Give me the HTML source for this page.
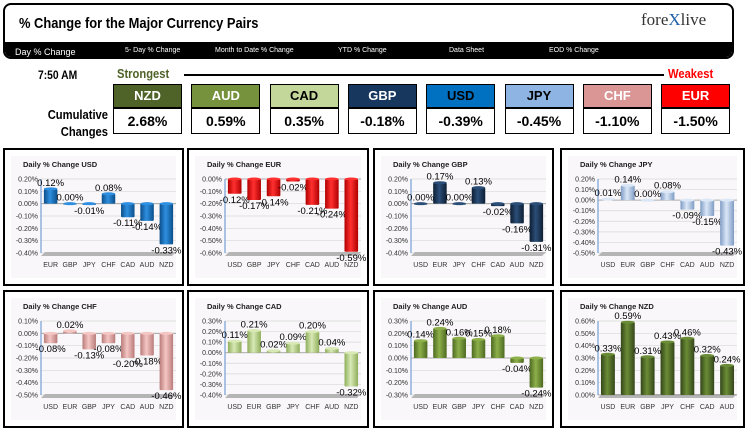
<!DOCTYPE html>
<html><head><meta charset="utf-8">
<style>
body{margin:0;width:747px;height:433px;background:#fff;overflow:hidden;font-family:"Liberation Sans",sans-serif;position:relative}
.abs{position:absolute}
.nar{font-family:"Liberation Sans Narrow","Liberation Sans",sans-serif;font-weight:bold}
.sq{transform:scaleX(0.86);transform-origin:left center;white-space:nowrap}
.box{position:absolute;width:67px;border:1px solid #000;text-align:center}
.bh{height:22px;line-height:22px;font-size:13px}
.bv{top:108px;height:24px;line-height:24px;font-size:14px;background:#fff;color:#000}
.panel{position:absolute;border:2px solid #000;box-sizing:border-box;background:#fff}
</style></head><body>
<div class="abs" style="left:3px;top:3px;width:731px;height:56px;border:2px solid #000;border-radius:8px;box-sizing:border-box;overflow:hidden">
  <div class="abs nar sq" style="left:14px;top:10px;font-size:15px">% Change for the Major Currency Pairs</div>
  <div class="abs" style="left:636px;top:5px;font-family:'Liberation Serif',serif;font-size:17px;color:#333">fore<span style="color:#1f5fa8">X</span>live</div>
  <div class="abs" style="left:0;top:37px;width:731px;height:19px;background:#000"></div>
  <div class="abs" style="left:10px;top:42px;color:#fff;font-size:9px">Day % Change</div>
  <div class="abs" style="left:120px;top:42px;color:#fff;font-size:7px">5- Day % Change</div>
  <div class="abs" style="left:210px;top:42px;color:#fff;font-size:7px">Month to Date % Change</div>
  <div class="abs" style="left:333px;top:42px;color:#fff;font-size:7px">YTD % Change</div>
  <div class="abs" style="left:444px;top:42px;color:#fff;font-size:7px">Data Sheet</div>
  <div class="abs" style="left:544px;top:42px;color:#fff;font-size:7px">EOD % Change</div>
</div>
<div class="abs nar sq" style="left:38px;top:68px;font-size:12px">7:50 AM</div>
<div class="abs nar sq" style="left:117px;top:66px;font-size:13px;color:#4f6228">Strongest</div>
<div class="abs" style="left:184px;top:74px;width:480px;height:2px;background:#000"></div>
<div class="abs nar sq" style="left:668px;top:66px;font-size:13px;color:#f00">Weakest</div>
<div class="abs nar" style="left:36px;top:106px;font-size:13px;text-align:right;width:72px;line-height:17px;transform:scaleX(0.86);transform-origin:right center">Cumulative<br>Changes</div>
<div id="boxes"></div>
<div id="panels"></div>
<script>
const rankCur=["NZD","AUD","CAD","GBP","USD","JPY","CHF","EUR"];
const rankVal=["2.68%","0.59%","0.35%","-0.18%","-0.39%","-0.45%","-1.10%","-1.50%"];
const rankBg=["#4f6228","#76923c","#c4d79b","#17375e","#0070c0","#8db4e2","#da9694","#ff0000"];
const rankFg=["#fff","#fff","#000","#fff","#000","#000","#fff","#fff"];
const bx=document.getElementById('boxes');
rankCur.forEach((c,i)=>{
  const x=113+i*78.3;
  const h=document.createElement('div');
  h.className='box bh nar';h.style.left=x+'px';h.style.top='84px';h.style.background=rankBg[i];h.style.color=rankFg[i];h.textContent=c;
  
  
  bx.appendChild(h);
  const v=document.createElement('div');
  v.className='box bv nar';v.style.left=x+'px';v.textContent=rankVal[i];
  
  
  bx.appendChild(v);
});

const usdCats=["EUR","GBP","JPY","CHF","CAD","AUD","NZD"];
const usdVals=[0.12,0.00,-0.01,0.08,-0.11,-0.14,-0.33];
const eurCats=["USD","GBP","JPY","CHF","CAD","AUD","NZD"];
const eurVals=[-0.12,-0.17,-0.14,-0.02,-0.21,-0.24,-0.59];
const gbpCats=["USD","EUR","JPY","CHF","CAD","AUD","NZD"];
const gbpVals=[0.00,0.17,0.00,0.13,-0.02,-0.16,-0.31];
const jpyCats=["USD","EUR","GBP","CHF","CAD","AUD","NZD"];
const jpyVals=[0.01,0.14,0.00,0.08,-0.09,-0.15,-0.43];
const chfCats=["USD","EUR","GBP","JPY","CAD","AUD","NZD"];
const chfVals=[-0.08,0.02,-0.13,-0.08,-0.20,-0.18,-0.46];
const cadCats=["USD","EUR","GBP","JPY","CHF","AUD","NZD"];
const cadVals=[0.11,0.21,0.02,0.09,0.20,0.04,-0.32];
const audCats=["USD","EUR","GBP","JPY","CHF","CAD","NZD"];
const audVals=[0.14,0.24,0.16,0.15,0.18,-0.04,-0.24];
const nzdCats=["USD","EUR","GBP","JPY","CHF","CAD","AUD"];
const nzdVals=[0.33,0.59,0.31,0.43,0.46,0.32,0.24];

const charts=[
 {id:'usd',t:'Daily % Change USD',x:3,y:148,w:181,c:usdCats,v:usdVals,max:0.2,min:-0.4,col:['#0b4f8a','#2e8fe0']},
 {id:'eur',t:'Daily % Change EUR',x:187,y:148,w:182,c:eurCats,v:eurVals,max:0,min:-0.6,col:['#b00000','#ff3030']},
 {id:'gbp',t:'Daily % Change GBP',x:373,y:148,w:181,c:gbpCats,v:gbpVals,max:0.2,min:-0.4,col:['#0d1e33','#2b4e78']},
 {id:'jpy',t:'Daily % Change JPY',x:560,y:148,w:185,c:jpyCats,v:jpyVals,max:0.2,min:-0.5,col:['#7f9cc4','#dbe7f7']},
 {id:'chf',t:'Daily % Change CHF',x:3,y:290,w:181,c:chfCats,v:chfVals,max:0.1,min:-0.5,col:['#b97c7a','#f4c6c4']},
 {id:'cad',t:'Daily % Change CAD',x:187,y:290,w:182,c:cadCats,v:cadVals,max:0.3,min:-0.4,col:['#8fae5b','#d8e9b6']},
 {id:'aud',t:'Daily % Change AUD',x:373,y:290,w:181,c:audCats,v:audVals,max:0.3,min:-0.3,col:['#4e6a22','#8db04a']},
 {id:'nzd',t:'Daily % Change NZD',x:560,y:290,w:185,c:nzdCats,v:nzdVals,max:0.6,min:0,col:['#34461a','#6b8c36']}
];
const NS='http://www.w3.org/2000/svg';
function el(tag,attrs,parent){const e=document.createElementNS(NS,tag);for(const k in attrs)e.setAttribute(k,attrs[k]);parent.appendChild(e);return e;}
const P=document.getElementById('panels');
charts.forEach(ch=>{
  const d=document.createElement('div');
  d.className='panel';
  
  
  d.style.left=ch.x+'px';d.style.top=ch.y+'px';d.style.width=ch.w+'px';d.style.height='138px';
  P.appendChild(d);
  const W=ch.w-4,H=134;
  const s=el('svg',{width:W,height:H},d);
  el('rect',{x:6,y:6,width:W-12,height:H-12,fill:'#f9f7f9'},s);
  const defs=el('defs',{},s);
  const g=el('linearGradient',{id:'g'+ch.id,x1:0,x2:1,y1:0,y2:0},defs);
  el('stop',{offset:'0',"stop-color":ch.col[0]},g);
  el('stop',{offset:'0.45',"stop-color":ch.col[1]},g);
  el('stop',{offset:'1',"stop-color":ch.col[0]},g);
  const tt=el('text',{x:18,y:17,"font-size":7.5,"font-weight":"bold",fill:'#222'},s);tt.textContent=ch.t;
  
  
  const top=29,bot=103,L=36,R=W-6;
  const yS=v=>top+(ch.max-v)/(ch.max-ch.min)*(bot-top);
  const n=Math.round((ch.max-ch.min)/0.1);
  for(let i=0;i<=n;i++){
    const v=ch.max-i*0.1,y=yS(v);
    el('line',{x1:L,x2:R,y1:y,y2:y,stroke:'#d8d8d8',"stroke-width":0.7},s);
    const tl=el('text',{x:L-3,y:y+2.5,"font-size":7,"text-anchor":"end",fill:'#333'},s);
    tl.textContent=(Math.abs(v)<1e-9?'0.00':v.toFixed(2))+'%';
    
    
  }
  el('line',{x1:L,x2:L,y1:top,y2:bot,stroke:'#5b8fd0',"stroke-width":1},s);
  el('polygon',{points:`${L},${bot+3} ${R-4},${bot+3} ${R},${bot-1} ${L+4},${bot-1}`,fill:'#b5b5b5'},s);
  const y0=yS(0);
  el('line',{x1:L,x2:R,y1:y0,y2:y0,stroke:'#999',"stroke-width":0.8},s);
  const band=(R-L)/ch.c.length;
  ch.c.forEach((c,i)=>{
    const cx=L+band*(i+0.5),v=ch.v[i],yv=yS(v);
    const bw=band*0.7;
    const y1=Math.min(yv,y0),hh=Math.max(Math.abs(yv-y0),1);
    const b=el('rect',{x:cx-bw/2,y:y1,width:bw,height:hh,fill:'url(#g'+ch.id+')',rx:1},s);
    
    
    el('ellipse',{cx:cx,cy:y1,rx:bw/2,ry:1.5,fill:ch.col[1]},s);
    const lb=el('text',{x:cx,y:v>=0?yv-3:yv+9,"font-size":9.5,"text-anchor":"middle",fill:'#000'},s);
    lb.textContent=v.toFixed(2)+'%';
    
    
    const cl=el('text',{x:cx,y:bot+14,"font-size":7,"text-anchor":"middle",fill:'#333'},s);
    cl.textContent=c;
    
    
  });
});
</script>
</body></html>
